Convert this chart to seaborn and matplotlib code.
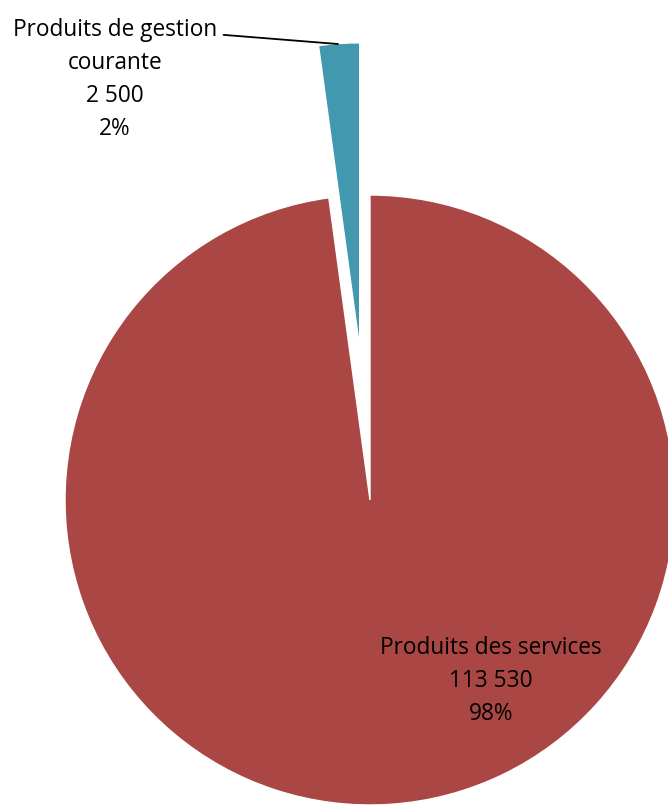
import seaborn as sns
import matplotlib.pyplot as plt

# Data
categories = ['Produits de gestion\ncourante', 'Produits des services']
values = [2500, 113530]
value_labels = ['2 500', '113 530']
colors = ['#4198AF', '#AA4643']

sns.set_theme(style="white")
plt.rcParams['font.family'] = ['Open Sans', 'DejaVu Sans']

fig = plt.figure(figsize=(6.68, 8.05), dpi=100)
ax = fig.add_axes([0, 0, 1, 1])

total = sum(values)
wedges, _ = ax.pie(values, colors=colors, startangle=90, counterclock=True,
                   explode=[0.5, 0], radius=1,
                   wedgeprops=dict(edgecolor='white', linewidth=1.0))

pcts = [round(v / total * 100) for v in values]

# small slice label with leader line
ax.text(-0.836, 1.38, f'{categories[0]}\n{value_labels[0]}\n{pcts[0]}%',
        ha='center', va='center', fontsize=16.3, linespacing=1.5, color='black')
ax.plot([-0.48, -0.105], [1.525, 1.495], color='black', lw=1.3)

# big slice label
ax.text(0.397, -0.595, f'{categories[1]}\n{value_labels[1]}\n{pcts[1]}%',
        ha='center', va='center', fontsize=16.3, linespacing=1.5, color='black')

ax.set_xlim(-370 / 305, 298 / 305)
ax.set_ylim(-1.0, 500 / 305)
ax.set_aspect('equal')
ax.axis('off')

fig.savefig('out.png', dpi=100)
